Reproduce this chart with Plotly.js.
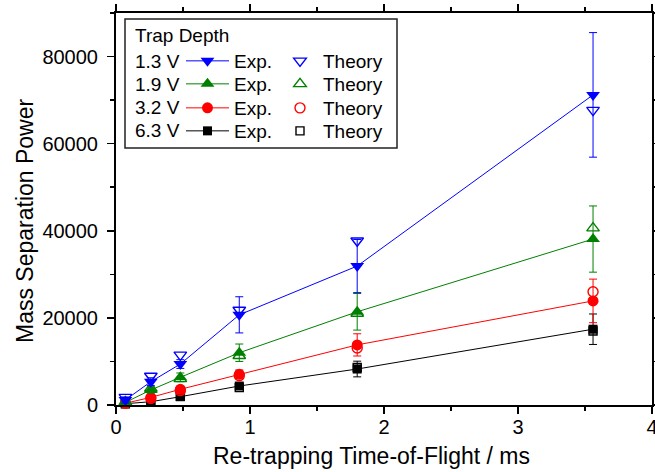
<!DOCTYPE html>
<html>
<head>
<meta charset="utf-8">
<script src="https://cdn.plot.ly/plotly-3.0.1.min.js"></script>
<style>html,body{margin:0;padding:0;background:#fff;}#chart{width:655px;height:472px;}</style>
</head>
<body>
<div id="chart"></div>
<script>
// ---- data ----
const tof = [0.07, 0.26, 0.48, 0.92, 1.8, 3.56];   // Re-trapping time-of-flight (ms)

const depthLabels = ["1.3 V", "1.9 V", "3.2 V", "6.3 V"];

const exp13 = [1150, 5350, 9400, 20700, 31900, 71200];
const err13 = [700, 900, 1000, 4150, 6100, 14300];
const th13  = [1800, 6650, 11500, 21800, 37700, 67700];

const exp19 = [600, 3450, 6350, 12000, 21400, 38100];
const err19 = [300, 700, 1000, 2000, 4200, 7600];
const th19  = [700, 3800, 6000, 11300, 21000, 40600];

const exp32 = [400, 1750, 3600, 7050, 13800, 23900];
const err32 = [200, 500, 700, 1000, 2550, 5000];
const th32  = [400, 1500, 3300, 6700, 13100, 26000];

const exp63 = [300, 750, 1900, 4360, 8260, 17400];
const err63 = [150, 300, 500, 800, 1800, 3500];
const th63  = [250, 800, 2000, 4000, 8600, 17000];

const xTitle = "Re-trapping Time-of-Flight / ms";
const yTitle = "Mass Separation Power";
const legendTitle = "Trap Depth";
const expName = "Exp.";
const thName = "Theory";

// ---- styling ----
const W = 655, H = 472;
const M = {l: 116, r: 3, t: 13, b: 67};
const PW = W - M.l - M.r, PH = H - M.t - M.b;
const FONT = "Liberation Sans, Arial, Helvetica, sans-serif";
const px2x = p => (p - M.l) / PW;
const px2y = p => (H - M.b - p) / PH;

const series = [
  {exp: exp13, err: err13, th: th13, color: "#0000FF", fsym: "triangle-down", osym: "triangle-down-open", size: 12},
  {exp: exp19, err: err19, th: th19, color: "#008000", fsym: "triangle-up", osym: "triangle-up-open", size: 12},
  {exp: exp32, err: err32, th: th32, color: "#FF0000", fsym: "circle", osym: "circle-open", size: 11},
  {exp: exp63, err: err63, th: th63, color: "#000000", fsym: "square", osym: "square-open", size: 9}
];

const rowY = [61, 84, 108, 131];
const traces = [];
const legends = {};
const annotations = [];

// draw black first so blue ends on top
for (let k = series.length - 1; k >= 0; k--) {
  const s = series[k];
  const lgE = k === 0 ? "legend" : "legend" + (k + 1);
  const lgT = "legend" + (k + 5);
  traces.push({
    x: tof, y: s.exp, type: "scatter", mode: "lines+markers", name: expName,
    legend: lgE,
    line: {color: s.color, width: 1},
    marker: {symbol: s.fsym, size: s.size, color: s.color, line: {width: 0}},
    error_y: {type: "data", array: s.err, visible: true, color: s.color, thickness: 1, width: 4},
    cliponaxis: false
  });
  traces.push({
    x: tof, y: s.th, type: "scatter", mode: "markers", name: thName,
    legend: lgT,
    marker: {symbol: s.osym, size: s.size - 1, color: s.color, line: {width: 1.4, color: s.color}},
    cliponaxis: false
  });
}

for (let k = 0; k < series.length; k++) {
  const lgE = k === 0 ? "legend" : "legend" + (k + 1);
  const lgT = "legend" + (k + 5);
  const yc = px2y(rowY[k]);
  legends[lgE] = {
    xref: "paper", yref: "paper", x: px2x(181), y: yc, xanchor: "left", yanchor: "middle",
    bgcolor: "rgba(0,0,0,0)", borderwidth: 0, itemwidth: 43,
    font: {family: FONT, size: 19, color: "#000"}
  };
  legends[lgT] = {
    xref: "paper", yref: "paper", x: px2x(277), y: yc, xanchor: "left", yanchor: "middle",
    bgcolor: "rgba(0,0,0,0)", borderwidth: 0, itemwidth: 36,
    font: {family: FONT, size: 19, color: "#000"}
  };
  annotations.push({
    xref: "paper", yref: "paper", x: px2x(133), y: px2y(rowY[k]), xanchor: "left", yanchor: "middle",
    text: depthLabels[k], showarrow: false, font: {family: FONT, size: 19, color: "#000"}
  });
}
annotations.push({
  xref: "paper", yref: "paper", x: px2x(133), y: px2y(36), xanchor: "left", yanchor: "middle",
  text: legendTitle, showarrow: false, font: {family: FONT, size: 19, color: "#000"}
});
// axis titles (placed as in the reference, slightly off-centre)
annotations.push({
  xref: "paper", yref: "paper", x: px2x(371), y: px2y(456), xanchor: "center", yanchor: "middle",
  text: xTitle, showarrow: false, font: {family: FONT, size: 23, color: "#000"}
});
annotations.push({
  xref: "paper", yref: "paper", x: px2x(25), y: px2y(221), xanchor: "center", yanchor: "middle",
  text: yTitle, textangle: -90, showarrow: false, font: {family: FONT, size: 23, color: "#000"}
});

const axisCommon = {
  showline: true, linecolor: "#000", linewidth: 2, mirror: "ticks",
  ticks: "outside", ticklen: 7, tickwidth: 1.5, tickcolor: "#000",
  showgrid: false, zeroline: false, automargin: false,
  ticklabeloverflow: "allow",
  tickfont: {family: FONT, size: 20, color: "#000"}
};

const layout = Object.assign({
  width: W, height: H,
  margin: M,
  paper_bgcolor: "#fff", plot_bgcolor: "#fff",
  showlegend: true,
  font: {family: FONT, color: "#000"},
  xaxis: Object.assign({}, axisCommon, {
    range: [0, 4], dtick: 1, tick0: 0, tickformat: "d", ticklabelstandoff: -4,
    minor: {dtick: 0.5, ticks: "outside", ticklen: 4, tickwidth: 1.5, tickcolor: "#000"}
  }),
  yaxis: Object.assign({}, axisCommon, {
    range: [0, 90000], dtick: 20000, tick0: 0, tickformat: "d", ticklabelstandoff: 5,
    minor: {dtick: 10000, ticks: "outside", ticklen: 4, tickwidth: 1.5, tickcolor: "#000"}
  }),
  shapes: [{
    type: "rect", xref: "paper", yref: "paper",
    x0: px2x(125), x1: px2x(397), y0: px2y(148), y1: px2y(19),
    line: {color: "#222", width: 1.5}, fillcolor: "rgba(0,0,0,0)"
  }],
  annotations: annotations
}, legends);

Plotly.newPlot("chart", traces, layout, {staticPlot: true, displayModeBar: false});
</script>
</body>
</html>
